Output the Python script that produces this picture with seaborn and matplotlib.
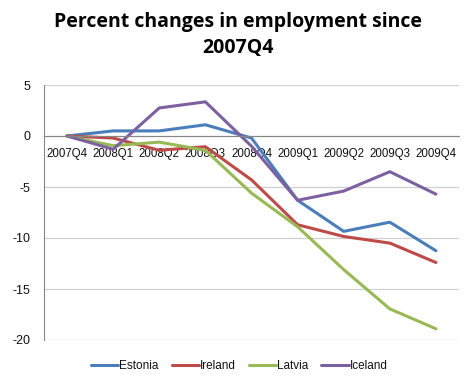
import numpy as np
import pandas as pd
import seaborn as sns
import matplotlib.pyplot as plt
from matplotlib.ticker import MultipleLocator, FixedLocator

quarters = ['2007Q4', '2008Q1', '2008Q2', '2008Q3', '2008Q4',
            '2009Q1', '2009Q2', '2009Q3', '2009Q4']
estonia = [0, 0.5, 0.5, 1.1, -0.2, -6.3, -9.35, -8.45, -11.25]
ireland = [0, -0.2, -1.4, -1.05, -4.3, -8.7, -9.85, -10.5, -12.4]
latvia = [0, -0.95, -0.6, -1.4, -5.6, -8.9, -13.1, -16.95, -18.9]
iceland = [0, -1.3, 2.75, 3.35, -1.0, -6.3, -5.4, -3.5, -5.7]
countries = ['Estonia', 'Ireland', 'Latvia', 'Iceland']
colors = ['#4a7ebb', '#be4b48', '#98b954', '#7d60a0']

df = pd.DataFrame({'Quarter': quarters, 'Estonia': estonia, 'Ireland': ireland,
                   'Latvia': latvia, 'Iceland': iceland})
long = df.melt(id_vars='Quarter', var_name='Country', value_name='Change')
long['x'] = long['Quarter'].map({q: i for i, q in enumerate(quarters)})

sns.set_style('white')
plt.rcParams['font.family'] = ['Liberation Sans', 'DejaVu Sans']
plt.rcParams['axes.unicode_minus'] = False

fig = plt.figure(figsize=(4.74, 3.87), dpi=100)
ax = fig.add_axes([44 / 474, 1 - 340 / 387, 415 / 474, 255 / 387])

sns.lineplot(data=long, x='x', y='Change', hue='Country', hue_order=countries,
             palette=colors, linewidth=2.2, ax=ax, legend=False)

ax.set_xlim(-0.5, len(quarters) - 0.5)
ax.set_ylim(-20, 5)
ax.yaxis.set_major_locator(MultipleLocator(5))
ax.yaxis.grid(True, color='#d0d0d0', linewidth=0.9)
ax.set_axisbelow(True)
ax.set_xlabel('')
ax.set_ylabel('')

for s in ['top', 'right']:
    ax.spines[s].set_visible(False)
ax.spines['left'].set_color('#868686')
ax.spines['bottom'].set_color('#868686')
ax.spines['bottom'].set_position(('data', 0))

ax.set_xticks(range(len(quarters)))
ax.set_xticklabels(quarters, fontsize=8.3, color='#111111')
ax.tick_params(axis='x', which='major', length=0, pad=9)
ax.xaxis.set_minor_locator(FixedLocator(np.arange(0.5, len(quarters), 1)))
ax.tick_params(axis='x', which='minor', length=4, color='#868686', direction='out')
ax.tick_params(axis='y', length=4, color='#868686', direction='out', labelsize=9,
               labelcolor='#111111', pad=6)

fig.text(0.503, 0.968, 'Percent changes in employment since\n2007Q4',
         ha='center', va='top', fontsize=14, fontweight='bold', color='black',
         family=['Open Sans', 'DejaVu Sans'], linespacing=1.35)

handles = [plt.Line2D([], [], color=c, linewidth=2.2) for c in colors]
fig.legend(handles, countries, loc='center', bbox_to_anchor=(0.505, 1 - 366 / 387),
           ncol=4, frameon=False, fontsize=8.5, handlelength=2.3, handletextpad=0.1,
           columnspacing=1.1, labelcolor='#111111')

fig.savefig('out.png', dpi=100)
